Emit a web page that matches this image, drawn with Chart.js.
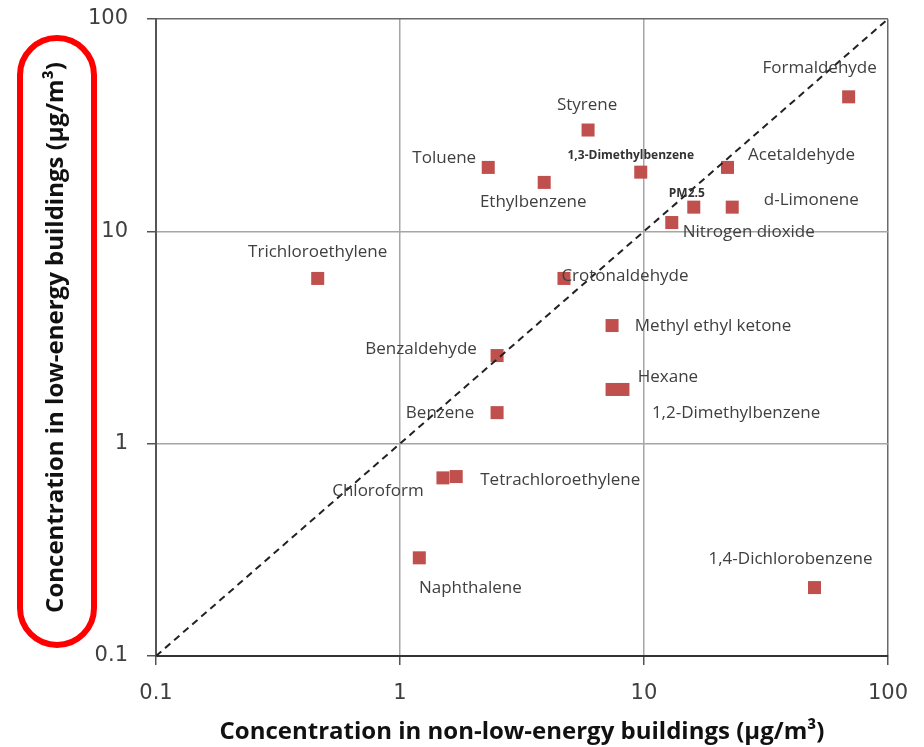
<!DOCTYPE html>
<html>
<head>
<meta charset="utf-8">
<script src="https://cdn.jsdelivr.net/npm/chart.js@4"></script>
<style>
  html, body { margin: 0; padding: 0; background: #fff; }
  #wrap { width: 924px; height: 747px; }
</style>
</head>
<body>
<div id="wrap"><canvas id="scatterChart" width="924" height="747"></canvas></div>
<script>
// Compound names and their concentrations (µg/m³)
const compounds = [
  "Formaldehyde", "Styrene", "Toluene", "1,3-Dimethylbenzene", "Acetaldehyde",
  "Ethylbenzene", "PM2.5", "d-Limonene", "Nitrogen dioxide", "Trichloroethylene",
  "Crotonaldehyde", "Methyl ethyl ketone", "Benzaldehyde", "Hexane", "1,2-Dimethylbenzene",
  "Benzene", "Chloroform", "Tetrachloroethylene", "Naphthalene", "1,4-Dichlorobenzene",
];
const nonLowEnergy = [69, 5.9, 2.3, 9.7, 22, 3.9, 16, 23, 13, 0.46, 4.7, 7.4, 2.5, 8.2, 7.4, 2.5, 1.5, 1.7, 1.2, 50];
const lowEnergy = [43, 30, 20, 19, 20, 17, 13, 13, 11, 6, 6, 3.6, 2.6, 1.8, 1.8, 1.4, 0.69, 0.7, 0.29, 0.21];
const tickValues = [0.1, 1, 10, 100];

// label placement (pixel offset of text centre from marker), styling only
const labelOffsets = {
  "Formaldehyde": [-29, -29], "Styrene": [-1, -25], "Toluene": [-44, -9],
  "1,3-Dimethylbenzene": [-10, -17], "Acetaldehyde": [74, -12], "Ethylbenzene": [-11, 20],
  "PM2.5": [-7, -14], "d-Limonene": [79, -7], "Nitrogen dioxide": [77, 10],
  "Trichloroethylene": [0, -26], "Crotonaldehyde": [61, -2], "Methyl ethyl ketone": [101, 1],
  "Benzaldehyde": [-76, -6], "Hexane": [45, -12], "1,2-Dimethylbenzene": [124, 24],
  "Benzene": [-57, 1], "Chloroform": [-65, 13], "Tetrachloroethylene": [104, 4],
  "Naphthalene": [51, 30], "1,4-Dichlorobenzene": [-24, -28],
};
const smallLabels = ["1,3-Dimethylbenzene", "PM2.5"];

const points = compounds.map((name, i) => ({ x: nonLowEnergy[i], y: lowEnergy[i], name }));

const pointLabels = {
  id: "pointLabels",
  afterDatasetsDraw(chart) {
    const ctx = chart.ctx;
    const meta = chart.getDatasetMeta(1);
    ctx.save();
    ctx.textAlign = "center";
    ctx.textBaseline = "middle";
    meta.data.forEach((el, i) => {
      const name = compounds[i];
      const off = labelOffsets[name] || [0, -20];
      if (smallLabels.includes(name)) {
        ctx.font = "bold 12px 'Open Sans'";
        ctx.fillStyle = "#333";
      } else {
        ctx.font = "17px 'Open Sans'";
        ctx.fillStyle = "#404040";
      }
      ctx.fillText(name, el.x + off[0], el.y + off[1]);
    });
    ctx.restore();
  },
};

// red rounded frame around the y axis title
const titleFrame = {
  id: "titleFrame",
  afterDraw(chart) {
    const ctx = chart.ctx;
    const x = 20, y = 38, w = 74, h = 607, r = 37;
    ctx.save();
    ctx.strokeStyle = "#ff0000";
    ctx.lineWidth = 6;
    ctx.beginPath();
    ctx.roundRect(x, y, w, h, r);
    ctx.stroke();
    ctx.restore();
  },
};

const gridColor = (ctx) => (ctx.tick && ctx.tick.value === 100 ? "#6a6a6a" : "#a6a6a6");

const chart = new Chart(document.getElementById("scatterChart"), {
  type: "scatter",
  data: {
    datasets: [
      {
        type: "line",
        data: [{ x: 0.1, y: 0.1 }, { x: 100, y: 100 }],
        borderColor: "#222",
        borderWidth: 2,
        borderDash: [7, 5],
        pointRadius: 0,
        fill: false,
      },
      {
        data: points,
        pointStyle: "rect",
        pointRadius: 9.2,
        pointHoverRadius: 9.2,
        backgroundColor: "#c0504d",
        borderColor: "#c0504d",
        borderWidth: 0,
      },
    ],
  },
  options: {
    responsive: false,
    animation: false,
    layout: { padding: { top: 19, right: 32, left: 0, bottom: 0 } },
    plugins: {
      legend: { display: false },
      tooltip: { enabled: false },
    },
    scales: {
      x: {
        type: "logarithmic",
        min: 0.1,
        max: 100,
        afterBuildTicks: (scale) => { scale.ticks = tickValues.map((v) => ({ value: v })); },
        afterFit: (scale) => { scale.height = 91; },
        ticks: {
          autoSkip: false,
          maxRotation: 0,
          padding: 16,
          color: "#404040",
          font: { family: "DejaVu Sans", size: 21 },
          callback: (v) => String(v),
        },
        grid: { color: gridColor, lineWidth: 1.5, tickLength: 9, tickColor: "#555" },
        border: { color: "#333", width: 2 },
        title: {
          display: true,
          text: "Concentration in non-low-energy buildings (µg/m³)",
          color: "#111",
          font: { family: "Open Sans", size: 24, weight: "bold" },
          padding: { top: 0, bottom: 0 },
        },
      },
      y: {
        type: "logarithmic",
        min: 0.1,
        max: 100,
        afterBuildTicks: (scale) => { scale.ticks = tickValues.map((v) => ({ value: v })); },
        afterFit: (scale) => {
          scale.width = 156;
          scale.paddingTop = 0;
          scale.paddingBottom = 0;
        },
        ticks: {
          autoSkip: false,
          padding: 19,
          color: "#404040",
          font: { family: "DejaVu Sans", size: 21 },
          callback: (v) => String(v),
        },
        grid: { color: gridColor, lineWidth: 1.5, tickLength: 9, tickColor: "#555" },
        border: { color: "#555", width: 2 },
        title: {
          display: true,
          text: "Concentration in low-energy buildings (µg/m³)",
          color: "#111",
          font: { family: "Open Sans", size: 24, weight: "bold" },
          padding: { top: 42, bottom: 0 },
        },
      },
    },
  },
  plugins: [pointLabels, titleFrame],
});
</script>
</body>
</html>
